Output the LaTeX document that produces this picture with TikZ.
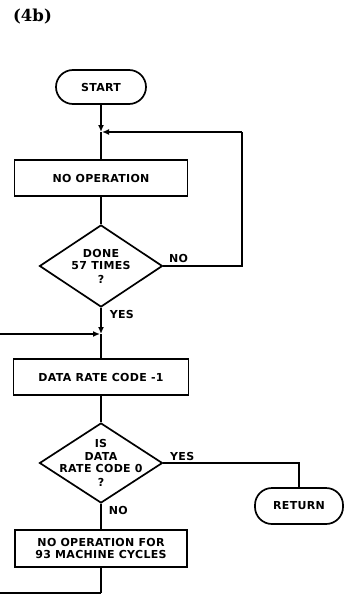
\documentclass[tikz,border=0pt]{standalone}
\usepackage{fontspec}
\newfontfamily\chartfont[LetterSpace=3]{DejaVu Sans}
\newfontfamily\titlefont{DejaVu Serif}
\newcommand{\chartsize}{\fontsize{11}{12.5}\selectfont}
\newcommand{\titlesize}{\fontsize{16.5}{19}\selectfont}
\usetikzlibrary{positioning, shapes.geometric, arrows.meta}

\begin{document}
\begin{tikzpicture}[x=1pt, y=-1pt, line width=1.7pt,
  chart_text/.style={font=\chartfont\bfseries\chartsize, align=center},
  box_node/.style={draw, rectangle, chart_text, inner sep=2pt},
  end_node/.style={draw, rectangle, rounded corners=17pt, chart_text, minimum height=34pt},
  test_node/.style={draw, diamond, inner sep=0pt, minimum width=123pt, minimum height=82pt},
  flow_arrow/.style={-{Latex[length=7pt,width=6pt]}},
  lbl/.style={chart_text, inner sep=2pt}]

\useasboundingbox (0,0) rectangle (344,594);

\node[inner sep=0pt] (title) at (32.5,17) {\titlefont\titlesize\bfseries (4b)};

% main column
\node[end_node, minimum width=90pt] (start) at (101,87) {START};
\node[box_node, minimum width=173pt, minimum height=36pt] (nop) at (101,178) {NO OPERATION};
\node[test_node, label={[chart_text]center:{DONE\\57 TIMES\\[1pt]?}}] (done) at (101,266) {};
\node[box_node, minimum width=175pt, minimum height=36pt] (dec) at (101,377) {DATA RATE CODE -1};
\node[test_node, minimum height=80pt, label={[chart_text]center:{IS\\DATA\\RATE CODE 0\\[1pt]?}}] (zero) at (101,463) {};
\node[box_node, minimum width=172pt, minimum height=37pt] (wait) at (101,548.5) {NO OPERATION FOR\\93 MACHINE CYCLES};
\node[end_node, minimum width=88pt, minimum height=36pt] (ret) at (299,506) {RETURN};

% junctions and corners
\coordinate (j1) at (101,132);
\coordinate (c1) at (242,132);
\coordinate (c2) at (242,266);
\coordinate (j2) at (101,334);
\coordinate (e1) at (0,334);
\coordinate (r1) at (299,463);
\coordinate (b1) at (101,593);
\coordinate (b2) at (0,593);

\path[draw]
\foreach \i/\j in {j1/nop,nop/done,j2/dec,dec/zero,wait/b1,b1/b2}{(\i) edge node {} (\j) };

\draw[flow_arrow] (start) -- (j1);
\draw (done.east) -- node[lbl, pos=0, above right, xshift=3pt] {NO} (c2) -- (c1);
\draw[flow_arrow] (c1) -- ([xshift=1pt]j1);
\draw[flow_arrow] (done.south) -- node[lbl, pos=0, below right, xshift=6pt] {YES} (j2);
\draw[flow_arrow] (e1) -- ([xshift=-1pt]j2);
\draw (zero.east) -- node[lbl, pos=0, above right, xshift=4pt] {YES} (r1) -- (ret);
\draw (zero.south) -- node[lbl, pos=0, below right, xshift=5pt] {NO} (wait);

\end{tikzpicture}
\end{document}
